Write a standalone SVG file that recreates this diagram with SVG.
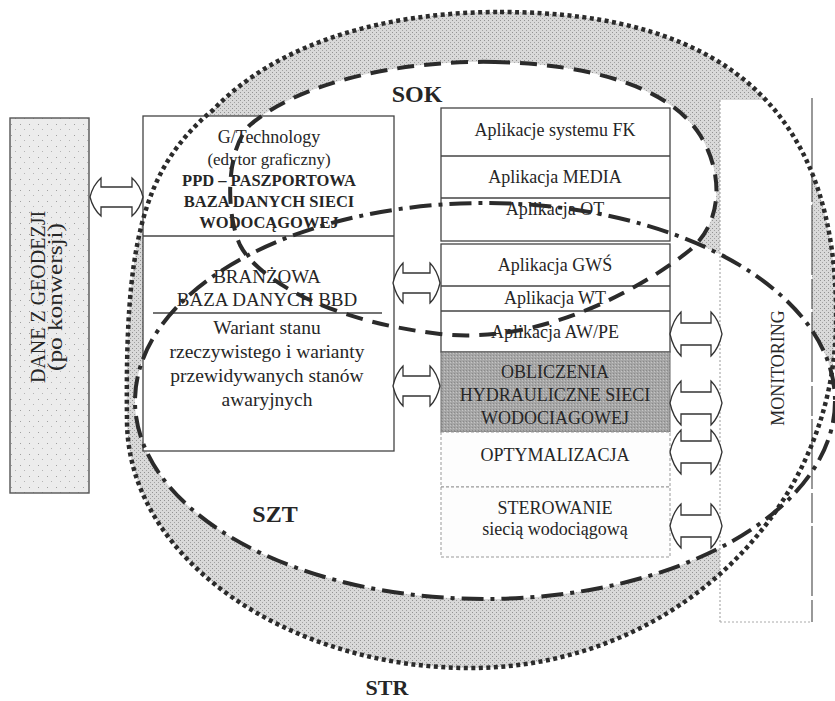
<svg xmlns="http://www.w3.org/2000/svg" width="835" height="701" viewBox="0 0 835 701">
<defs>
<pattern id="stip" width="4" height="4" patternUnits="userSpaceOnUse">
<rect width="4" height="4" fill="#d9d9d9"/>
<rect x="0" y="0" width="1" height="1" fill="#929292"/>
<rect x="2" y="2" width="1" height="1" fill="#a2a2a2"/>
</pattern>
<pattern id="speck" width="9" height="11" patternUnits="userSpaceOnUse">
<rect width="9" height="11" fill="#ececec"/>
<rect x="2" y="3" width="1" height="1" fill="#a0a0a0"/>
<rect x="6" y="8" width="1" height="1" fill="#b5b5b5"/>
</pattern>
<pattern id="dk" width="3" height="3" patternUnits="userSpaceOnUse">
<rect width="3" height="3" fill="#a6a6a6"/>
<rect x="1" y="1" width="1" height="1" fill="#8a8a8a"/>
<rect x="0" y="2" width="1" height="1" fill="#c4c4c4"/>
</pattern>
<path id="outerShape" d="M500,12 C735,12 838,120 836,320 C836,512 672,668 470,668 C290,668 127,560 127,420 C125,250 140,170 213,110 C280,40 390,12 500,12 Z"/>
<path id="sokShape" d="M495,62 C400,60 300,82 250,125 C225,150 226,215 240,245 C255,275 320,320 440,334 C540,345 640,290 690,250 C725,220 722,170 700,135 C670,87 590,64 495,62 Z"/>
<ellipse id="sztShape" cx="485" cy="401" rx="350" ry="198"/>
</defs>
<style>
.box{fill:#fff;stroke:#444;stroke-width:1.3}
.lbox{fill:#fdfdfd;stroke:#999;stroke-width:1;stroke-dasharray:3 2}
.ln{stroke:#444;stroke-width:1.3}
.t{font-family:"Liberation Serif","Times New Roman",serif;font-size:18px;fill:#262626;text-anchor:middle}
.b{font-weight:bold;font-size:16.5px}
.big{font-size:19.5px}
.lab{font-family:"Liberation Serif","Times New Roman",serif;font-weight:bold;font-size:24px;fill:#262626;text-anchor:middle}
.arr{fill:#fff;stroke:#333;stroke-width:1.3;stroke-linejoin:miter}
.dot{fill:none;stroke:#2b2b2b;stroke-width:4.5;stroke-dasharray:4 3.5}
.dash{fill:none;stroke:#2b2b2b;stroke-width:4;stroke-dasharray:17 10}
.dd{fill:none;stroke:#2b2b2b;stroke-width:4;stroke-dasharray:22 7 4 7}
</style>

<g id="regions">
<use href="#outerShape" fill="url(#stip)"/>
<use href="#sokShape" fill="#fff"/>
<use href="#sztShape" fill="#fff"/>
</g>

<g id="monitoring">
<rect x="720" y="100" width="92" height="522" fill="#fff"/>
<line x1="812" y1="98" x2="812" y2="622" stroke="#555" stroke-width="1.2" stroke-dasharray="70 4 30 3"/>
<line x1="720" y1="100" x2="720" y2="622" stroke="#999" stroke-width="1" stroke-dasharray="2 2"/>
<line x1="720" y1="622" x2="812" y2="622" stroke="#aaa" stroke-width="1" stroke-dasharray="2 2"/>
<text class="t" transform="translate(784,368) rotate(-90)">MONITORING</text>
</g>

<g id="geodezja">
<rect x="10" y="118" width="79" height="375" fill="url(#speck)" stroke="#555" stroke-width="1.4"/>
<text class="t" transform="translate(45,297) rotate(-90)" style="font-size:20px">DANE Z GEODEZJI</text>
<text class="t" transform="translate(62,297) rotate(-90)" style="font-size:20px" textLength="148" lengthAdjust="spacingAndGlyphs">(po konwersji)</text>
</g>

<g id="ppd">
<rect class="box" x="143" y="116" width="251" height="335"/>
<line class="ln" x1="143" y1="236" x2="394" y2="236"/>
<text class="t" x="269" y="143">G/Technology</text>
<text class="t" x="269" y="165" style="font-size:17px">(edytor graficzny)</text>
<text class="t b" x="269" y="186">PPD – PASZPORTOWA</text>
<text class="t b" x="269" y="207">BAZA DANYCH SIECI</text>
<text class="t b" x="269" y="228">WODOCĄGOWEJ</text>
</g>
<g id="bbd">
<text class="t" x="267" y="283" style="font-size:19px">BRANŻOWA</text>
<text class="t" x="267" y="306" style="font-size:19px">BAZA DANYCH BBD</text>
<line class="ln" x1="153" y1="313" x2="382" y2="313"/>
</g>
<g id="warianty">
<text class="t big" x="267" y="334">Wariant stanu</text>
<text class="t big" x="267" y="358">rzeczywistego i warianty</text>
<text class="t big" x="267" y="382">przewidywanych stanów</text>
<text class="t big" x="267" y="406">awaryjnych</text>
</g>

<g id="app1">
<rect class="box" x="441" y="108" width="229" height="133"/>
<line class="ln" x1="441" y1="156" x2="670" y2="156"/>
<line class="ln" x1="441" y1="198" x2="670" y2="198"/>
<text class="t" x="555" y="136">Aplikacje systemu FK</text>
<text class="t" x="555" y="183">Aplikacja MEDIA</text>
<text class="t" x="555" y="215">Aplikacja OT</text>
</g>
<g id="app2">
<rect class="box" x="441" y="244" width="229" height="108"/>
<line class="ln" x1="441" y1="286" x2="670" y2="286"/>
<line class="ln" x1="441" y1="311" x2="670" y2="311"/>
<text class="t" x="555" y="271">Aplikacja GWŚ</text>
<text class="t" x="555" y="304">Aplikacja WT</text>
<text class="t" x="555" y="338">Aplikacja AW/PE</text>
</g>
<g id="obliczenia">
<rect x="441" y="352" width="229" height="80" fill="url(#dk)" stroke="#666" stroke-width="1"/>
<text class="t" x="555" y="378">OBLICZENIA</text>
<text class="t" x="555" y="401">HYDRAULICZNE SIECI</text>
<text class="t" x="555" y="424">WODOCIAGOWEJ</text>
</g>
<g id="optymalizacja">
<rect class="lbox" x="441" y="432" width="229" height="55"/>
<text class="t" x="555" y="461">OPTYMALIZACJA</text>
</g>
<g id="sterowanie">
<rect class="lbox" x="441" y="487" width="229" height="70"/>
<text class="t" x="555" y="514">STEROWANIE</text>
<text class="t" x="555" y="535">siecią wodociągową</text>
</g>

<g id="labels">
<text class="lab" x="417" y="102">SOK</text>
<text class="lab" x="275" y="522">SZT</text>
<text class="lab" x="387" y="695" style="font-size:22px">STR</text>
</g>

<g id="connectors">
<path class="arr" d="M90,197 Q93,185 101,178 L101,187 L132,187 L132,178 Q140,185 143,197 Q140,209 132,216 L132,207 L101,207 L101,216 Q93,209 90,197 Z"/>
<path class="arr" d="M393,283 Q396,270 403,263 L403,273 L430,273 L430,263 Q437,270 440,283 Q437,296 430,303 L430,293 L403,293 L403,303 Q396,296 393,283 Z"/>
<path class="arr" d="M393,386 Q396,373 403,366 L403,376 L430,376 L430,366 Q437,373 440,386 Q437,399 430,406 L430,396 L403,396 L403,406 Q396,399 393,386 Z"/>
<path class="arr" d="M670,334 Q673,320 681,312 L681,323 L711,323 L711,312 Q719,320 722,334 Q719,348 711,356 L711,345 L681,345 L681,356 Q673,348 670,334 Z"/>
<path class="arr" d="M670,403 Q673,389 681,381 L681,392 L711,392 L711,381 Q719,389 722,403 Q719,417 711,425 L711,414 L681,414 L681,425 Q673,417 670,403 Z"/>
<path class="arr" d="M670,452 Q673,438 681,430 L681,441 L711,441 L711,430 Q719,438 722,452 Q719,466 711,474 L711,463 L681,463 L681,474 Q673,466 670,452 Z"/>
<path class="arr" d="M670,526 Q673,512 681,504 L681,515 L711,515 L711,504 Q719,512 722,526 Q719,540 711,548 L711,537 L681,537 L681,548 Q673,540 670,526 Z"/>
</g>

<g id="boundaries">
<use href="#outerShape" class="dot"/>
<use href="#sokShape" class="dash"/>
<use href="#sztShape" class="dd"/>
</g>
</svg>
